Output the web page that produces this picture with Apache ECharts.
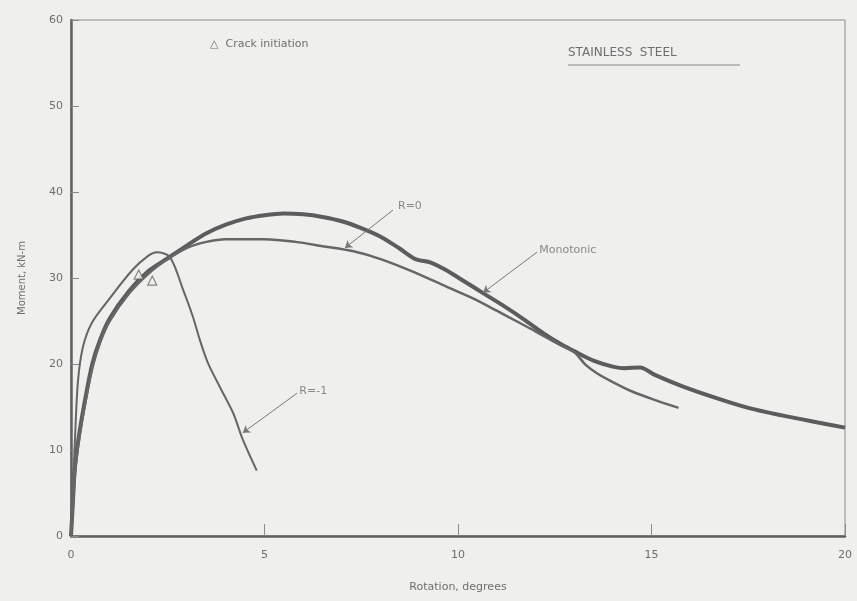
<!DOCTYPE html>
<html><head><meta charset="utf-8">
<script src="https://cdn.jsdelivr.net/npm/echarts@6/dist/echarts.min.js"></script>
<style>html,body{margin:0;padding:0;background:#efefed}#c{width:857px;height:601px}</style>
</head><body><div id="c"></div>
<script>
// ---- data (rotation in degrees, moment in kN-m) ----
const monotonic = [[0,0],[0.05,4],[0.1,8],[0.2,11.5],[0.35,15.5],[0.55,20],[0.75,22.8],[1.0,25.3],[1.5,28.5],[2.0,30.8],[2.5,32.3],[3.0,33.8],[3.5,35.2],[4.0,36.2],[4.5,36.9],[5.0,37.3],[5.5,37.5],[6.0,37.4],[6.5,37.1],[7.0,36.6],[7.5,35.8],[8.0,34.8],[8.5,33.4],[8.9,32.2],[9.3,31.8],[9.7,30.9],[10.2,29.5],[10.7,28.1],[11.2,26.7],[11.7,25.2],[12.2,23.6],[12.7,22.2],[13.0,21.5],[13.5,20.4],[14.0,19.7],[14.3,19.5],[14.7,19.6],[15.1,18.7],[15.8,17.4],[16.7,16.0],[17.5,14.9],[18.4,14.0],[19.3,13.2],[20.0,12.6]];
const rZero = [[0,0],[0.05,3.5],[0.1,7],[0.2,11],[0.35,15],[0.55,19.5],[0.75,22.5],[1.0,25.0],[1.5,28.2],[2.0,30.5],[2.5,32.2],[3.0,33.5],[3.5,34.2],[4.0,34.5],[5.0,34.5],[5.8,34.2],[6.5,33.7],[7.3,33.1],[8.0,32.2],[8.8,30.8],[9.7,29.0],[10.4,27.6],[11.0,26.2],[11.5,25.0],[12.0,23.8],[12.6,22.3],[13.0,21.4],[13.3,19.9],[13.6,18.9],[14.0,17.9],[14.5,16.8],[15.1,15.8],[15.7,14.9]];
const rMinusOne = [[0,0],[0.05,5.3],[0.1,11],[0.18,18],[0.31,22],[0.54,24.8],[0.96,27.4],[1.58,30.9],[2.0,32.6],[2.22,33.0],[2.56,32.4],[2.9,28.6],[3.15,25.5],[3.33,22.8],[3.54,20.1],[3.85,17.3],[4.19,14.3],[4.44,11.2],[4.8,7.6]];
const crackInitiation = [[1.75,30.4],[2.1,29.7]];
const xTicks = ['0','5','10','15','20'];
const yTicks = ['0','10','20','30','40','50','60'];

// ---- annotation placement (data coordinates) ----
const ann = {
  rZero:    {text:'R=0',       label:[8.45,38.3],  from:[8.32,37.9], to:[7.08,33.5]},
  mono:     {text:'Monotonic', label:[12.1,33.2],  from:[12.04,33.0], to:[10.65,28.3]},
  rMinus:   {text:'R=-1',      label:[5.9,16.9],   from:[5.84,16.6], to:[4.44,12.0]}
};

const ink = '#606060';
const txt = '#6e6e6e';
const chart = echarts.init(document.getElementById('c'));
const labelSeries = Object.values(ann).map(a => ({type:'scatter', data:[a.label], symbolSize:0, silent:true, z:5,
  label:{show:true, position:'right', distance:0, formatter:a.text, color:txt, fontSize:11, fontFamily:'DejaVu Sans'}}));
const leaderLines = Object.values(ann).map(a => [{coord:a.from},{coord:a.to}]);

chart.setOption({
  backgroundColor:'#efefed',
  animation:false,
  grid:{left:71, right:12, top:20, bottom:65, show:true, borderColor:'#8a8a8a', borderWidth:1},
  xAxis:{type:'value', min:0, max:20, interval:5,
    name:'Rotation, degrees', nameLocation:'middle', nameGap:46,
    nameTextStyle:{color:txt, fontSize:11, fontFamily:'DejaVu Sans'},
    axisLine:{lineStyle:{color:ink, width:2.5}},
    axisTick:{inside:true, length:12, lineStyle:{color:'#8a8a8a', width:1}},
    axisLabel:{color:txt, fontSize:11, margin:14, fontFamily:'DejaVu Sans', formatter:v=>xTicks[v/5]},
    splitLine:{show:false}},
  yAxis:{type:'value', min:0, max:60, interval:10,
    name:'Moment, kN-m', nameLocation:'middle', nameGap:44,
    nameTextStyle:{color:txt, fontSize:10, fontFamily:'DejaVu Sans'},
    axisLine:{lineStyle:{color:ink, width:2.5}},
    axisTick:{inside:true, length:8, lineStyle:{color:'#8a8a8a', width:1}},
    axisLabel:{color:txt, fontSize:11, margin:8, fontFamily:'DejaVu Sans', formatter:v=>yTicks[v/10]},
    splitLine:{show:false}},
  series:[
    {type:'line', name:'Monotonic', data:monotonic, smooth:0.3, symbol:'none', z:3,
      lineStyle:{color:'#5c5c5c', width:4}},
    {type:'line', name:'R=0', data:rZero, smooth:0.3, symbol:'none', z:3,
      lineStyle:{color:'#666', width:2.5},
      markLine:{silent:true, symbol:['none','arrow'], symbolSize:7, label:{show:false},
        lineStyle:{color:'#777', width:1, type:'solid'}, data:leaderLines}},
    {type:'line', name:'R=-1', data:rMinusOne, smooth:0.3, symbol:'none', z:3,
      lineStyle:{color:'#666', width:2}},
    {type:'scatter', name:'Crack initiation', data:crackInitiation, symbol:'triangle', symbolSize:9, z:4,
      itemStyle:{color:'#efefed', borderColor:'#666', borderWidth:1.2}},
    ...labelSeries
  ],
  graphic:[
    {type:'text', left:210, top:39, style:{text:'△  Crack initiation', fill:txt, fontSize:11, fontFamily:'DejaVu Sans'}},
    {type:'text', left:568, top:47, style:{text:'STAINLESS  STEEL', fill:txt, fontSize:12, fontFamily:'DejaVu Sans'}},
    {type:'line', shape:{x1:568, y1:65, x2:740, y2:65}, style:{stroke:'#888', lineWidth:1}}
  ]
});
</script></body></html>
